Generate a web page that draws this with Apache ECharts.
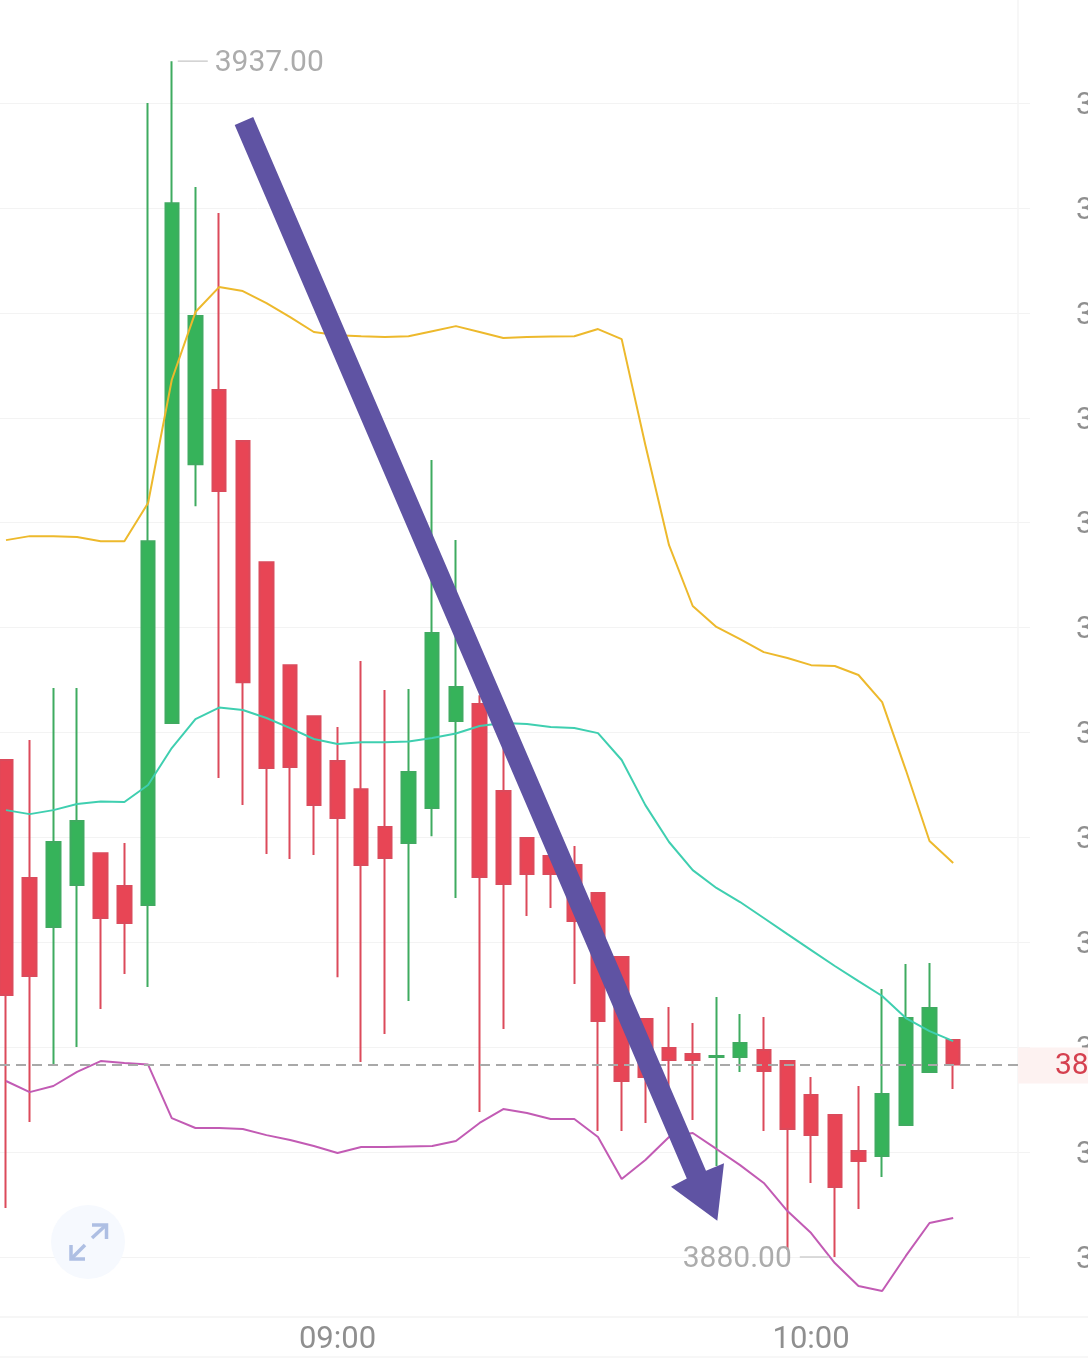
<!DOCTYPE html>
<html>
<head>
<meta charset="utf-8">
<style>html,body{margin:0;padding:0;background:#fff;overflow:hidden}#c{width:1088px;height:1364px}</style>
<script src="https://cdn.jsdelivr.net/npm/echarts@6/dist/echarts.min.js"></script>
</head>
<body>
<div id="c"></div>
<script>
const times = ['08:18','08:21','08:24','08:27','08:30','08:33','08:36','08:39','08:42','08:45','08:48','08:51','08:54','08:57','09:00','09:03','09:06','09:09','09:12','09:15','09:18','09:21','09:24','09:27','09:30','09:33','09:36','09:39','09:42','09:45','09:48','09:51','09:54','09:57','10:00','10:03','10:06','10:09','10:12','10:15','10:18'];
const opens = [3903.69,3898.06,3895.73,3897.73,3899.25,3897.68,3896.78,3905.45,3917.79,3921.32,3918.89,3913.12,3908.21,3905.78,3903.64,3902.30,3900.49,3899.73,3901.40,3905.55,3906.36,3902.21,3899.97,3899.11,3898.68,3897.35,3894.30,3891.34,3889.96,3889.67,3889.53,3889.53,3889.87,3889.34,3887.72,3886.77,3885.05,3884.81,3886.29,3888.82,3890.34];
const closes = [3892.49,3893.39,3899.78,3900.78,3896.16,3895.92,3914.12,3930.23,3924.85,3916.51,3907.40,3903.31,3903.35,3901.54,3900.92,3898.68,3899.02,3903.12,3909.74,3907.17,3898.11,3897.78,3898.25,3898.25,3896.01,3891.25,3888.39,3888.58,3889.39,3889.39,3889.58,3890.20,3888.86,3886.10,3885.81,3883.34,3884.58,3887.77,3891.39,3891.87,3889.17];
const lows = [3882.34,3886.43,3889.15,3890.01,3891.82,3893.49,3892.87,3905.45,3915.79,3902.83,3901.54,3899.21,3898.97,3899.16,3893.34,3889.29,3890.63,3892.20,3900.06,3897.11,3886.91,3890.87,3896.25,3896.63,3893.01,3886.01,3886.01,3886.39,3886.29,3886.53,3884.34,3888.82,3886.01,3880.33,3883.53,3880.00,3882.29,3883.81,3886.29,3888.82,3888.01];
const highs = [3903.69,3904.64,3907.12,3907.12,3899.25,3899.73,3935.00,3937.00,3931.00,3929.76,3918.89,3913.12,3908.21,3905.78,3905.26,3908.41,3907.02,3907.07,3917.99,3914.17,3906.78,3904.26,3899.97,3899.11,3899.59,3897.35,3894.30,3891.34,3891.92,3891.15,3892.39,3891.58,3891.44,3889.34,3888.58,3886.77,3888.15,3892.77,3893.96,3894.01,3890.34];
const upper = [3914.17,3914.36,3914.36,3914.32,3914.12,3914.12,3915.94,3921.80,3925.04,3926.23,3926.04,3925.47,3924.80,3924.09,3923.94,3923.89,3923.85,3923.89,3924.13,3924.37,3924.09,3923.80,3923.85,3923.87,3923.89,3924.23,3923.75,3918.70,3913.93,3911.03,3910.03,3909.45,3908.83,3908.55,3908.21,3908.17,3907.74,3906.45,3903.21,3899.83,3898.78];
const middle = [3901.30,3901.11,3901.30,3901.59,3901.71,3901.69,3902.50,3904.26,3905.64,3906.19,3906.07,3905.69,3905.21,3904.69,3904.45,3904.54,3904.54,3904.57,3904.74,3904.95,3905.31,3905.45,3905.40,3905.26,3905.21,3904.97,3903.69,3901.54,3899.78,3898.44,3897.59,3896.92,3896.16,3895.39,3894.63,3893.87,3893.15,3892.44,3891.39,3890.77,3890.29];
const lower = [3888.39,3887.86,3888.15,3888.82,3889.34,3889.25,3889.17,3886.62,3886.15,3886.15,3886.10,3885.81,3885.58,3885.29,3884.96,3885.24,3885.24,3885.27,3885.29,3885.53,3886.39,3887.05,3886.86,3886.58,3886.58,3885.72,3883.72,3884.62,3885.72,3885.91,3885.15,3884.38,3883.53,3882.19,3881.14,3879.71,3878.62,3878.38,3880.05,3881.62,3881.86];
const priceTicks = [3880,3885,3890,3895,3900,3905,3910,3915,3920,3925,3930,3935];
const timeLabelIdx = [14,34];
const highIdx = 7, lowIdx = 35;
const GREEN = '#36b35a', RED = '#e84555';

const idx = times.map((_, i) => i);
const chart = echarts.init(document.getElementById('c'), null, {renderer:'canvas', width:1088, height:1364});
const fontFamily = 'Roboto, "Noto Sans", sans-serif';
const pxPerBar = 23.68, x0 = 6;               // pixel layout of the category slots
const xMin = -x0 / pxPerBar, xMax = (1030 - x0) / pxPerBar;
const xPriceEnd = (1018 - x0) / pxPerBar;
const last = closes[closes.length - 1];
const yMin = 3880 - (1316 - 1257) / 20.98, yMax = 3880 + 1257 / 20.98;
const labelNudge = 3 / 20.98;                 // optical centring of the price labels

function annotate(params, api) {
  const kind = api.value(0);
  const pt = api.coord([api.value(1), api.value(2)]);
  const children = [];
  const grey = '#acacac';
  if (kind === 0) {
    children.push({type:'line', shape:{x1:pt[0]+6, y1:pt[1], x2:pt[0]+36, y2:pt[1]}, style:{stroke:'#cfcfcf', lineWidth:1.5}});
    children.push({type:'text', style:{x:pt[0]+43, y:pt[1]+2.5, text:api.value(2).toFixed(2), fill:grey, font:'30px '+fontFamily, textAlign:'left', textVerticalAlign:'middle'}});
  } else if (kind === 1) {
    children.push({type:'line', shape:{x1:pt[0]-35, y1:pt[1], x2:pt[0]-6, y2:pt[1]}, style:{stroke:'#cfcfcf', lineWidth:1.5}});
    children.push({type:'text', style:{x:pt[0]-43, y:pt[1]+2.5, text:api.value(2).toFixed(2), fill:grey, font:'30px '+fontFamily, textAlign:'right', textVerticalAlign:'middle'}});
  } else {
    children.push({type:'rect', shape:{x:1018, y:pt[1]-17, width:70, height:36}, style:{fill:'#fdf2f1'}});
    children.push({type:'text', style:{x:1055, y:pt[1]+2, text:'3889.20', fill:'#d5404f', font:'30px '+fontFamily, textAlign:'left', textVerticalAlign:'middle'}});
  }
  return {type:'group', children};
}

const option = {
  animation:false,
  backgroundColor:'#ffffff',
  grid:{left:0, top:0, width:1030, height:1316, containLabel:false, outerBoundsMode:'none'},
  xAxis:{
    type:'value', min:xMin, max:xMax,
    axisLine:{show:false}, axisTick:{show:false}, splitLine:{show:false},
    axisLabel:{customValues:timeLabelIdx, formatter:v=>times[v], color:'#8f8f8f', fontSize:31, fontFamily, margin:9, hideOverlap:false}
  },
  yAxis:[{
    type:'value', position:'right', min:yMin, max:yMax,
    axisLine:{show:false},
    axisTick:{show:false, customValues:priceTicks},
    splitLine:{show:true, lineStyle:{color:'#f3f3f3', width:1}},
    axisLabel:{show:false, customValues:priceTicks}
  },{
    type:'value', position:'right', min:yMin+labelNudge, max:yMax+labelNudge,
    axisLine:{show:false},
    axisTick:{show:false, customValues:priceTicks},
    splitLine:{show:false},
    axisLabel:{customValues:priceTicks, formatter:v=>v.toFixed(2), color:'#8f8f8f', fontSize:31, fontFamily, margin:46, align:'left', hideOverlap:false}
  }],
  series:[
    {
      type:'candlestick', name:'K', barWidth:14, z:3,
      encode:{x:0, y:[1,2,3,4]},
      data:idx.map(i=>[i,opens[i],closes[i],lows[i],highs[i]]),
      itemStyle:{color:GREEN, color0:RED, borderColor:'#3fab60', borderColor0:'#dc4a5b', borderWidth:2}
    },
    {type:'line', name:'UPPER', data:idx.map(i=>[i,upper[i]]), showSymbol:false, symbol:'none', z:4, lineStyle:{color:'#edb92c', width:2}},
    {type:'line', name:'MID', data:idx.map(i=>[i,middle[i]]), showSymbol:false, symbol:'none', z:4, lineStyle:{color:'#3fcfb0', width:2}},
    {type:'line', name:'LOWER', data:idx.map(i=>[i,lower[i]]), showSymbol:false, symbol:'none', z:4, lineStyle:{color:'#c25bb4', width:2},
     markLine:{silent:true, symbol:'none', z:5, label:{show:false},
       lineStyle:{color:'#a9a9a9', type:[10,6], width:2},
       data:[[{coord:[xMin,last]},{coord:[xPriceEnd,last]}]]}},
    {type:'custom', name:'notes', z:6, clip:false, renderItem:annotate, silent:true,
     encode:{x:1,y:2},
     data:[[0,highIdx,highs[highIdx]],[1,lowIdx,lows[lowIdx]],[2,40,last]]}
  ],
  graphic:[
    {type:'line', z:1, shape:{x1:1018,y1:0,x2:1018,y2:1316}, style:{stroke:'#f4f4f4', lineWidth:1.5}},
    {type:'line', z:1, shape:{x1:0,y1:1317,x2:1088,y2:1317}, style:{stroke:'#f3f3f3', lineWidth:1.5}},
    {type:'line', z:1, shape:{x1:0,y1:1357,x2:1088,y2:1357}, style:{stroke:'#f5f5f5', lineWidth:1.5}},
    {type:'circle', z:1, shape:{cx:88,cy:1242,r:37}, style:{fill:'#f6f9fe'}},
    {type:'polyline', z:2, shape:{points:[[92,1238],[105,1226]]}, style:{stroke:'#aebfe3', lineWidth:3.5, fill:null}},
    {type:'polyline', z:2, shape:{points:[[92,1225],[106.5,1225],[106.5,1239]]}, style:{stroke:'#aebfe3', lineWidth:3.5, fill:null}},
    {type:'polyline', z:2, shape:{points:[[85,1245],[72,1258]]}, style:{stroke:'#aebfe3', lineWidth:3.5, fill:null}},
    {type:'polyline', z:2, shape:{points:[[71,1245],[71,1259],[85,1259]]}, style:{stroke:'#aebfe3', lineWidth:3.5, fill:null}},
    {type:'polygon', z:100, shape:{points:[[234.7,125],[253.2,117],[706,1170.7],[724,1163.3],[717.3,1220.7],[671,1186.7],[686.8,1178.5]]}, style:{fill:'#5f53a3'}}
  ]
};
chart.setOption(option);
</script>
</body>
</html>
